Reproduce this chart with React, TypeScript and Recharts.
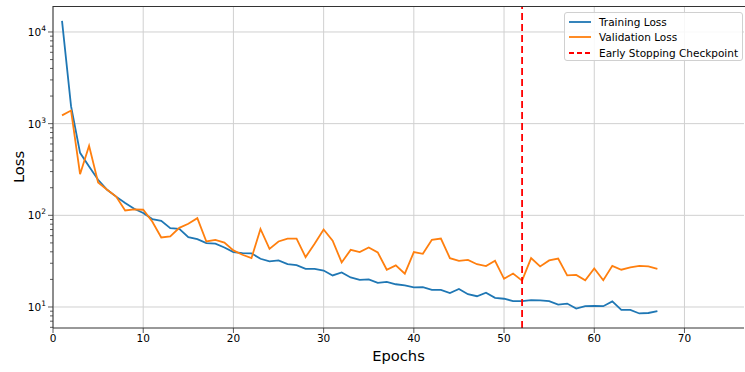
import { CartesianGrid, Line, LineChart, ReferenceLine, XAxis, YAxis } from "recharts";

const trainingLoss = [
  13200, 1550, 480, 340, 244, 190, 160, 136, 118, 106,
  91, 87, 72.5, 71, 57.8, 55, 49.7, 49, 44.6, 39.7,
  38.7, 38.5, 33.6, 31.4, 32.2, 29.3, 28.6, 26.1, 26, 25,
  22.1, 23.8, 21, 19.8, 20, 18.3, 18.8, 17.7, 17.2, 16.4,
  16.5, 15.4, 15.4, 14.2, 15.7, 13.8, 13.1, 14.3, 12.6, 12.3,
  11.6, 11.6, 11.9, 11.8, 11.6, 10.6, 10.9, 9.6, 10.2, 10.3,
  10.2, 11.5, 9.3, 9.3, 8.5, 8.6, 9.0,
];

const validationLoss = [
  1230, 1390, 281, 573, 228, 190, 160, 113, 116, 115,
  85.6, 57.3, 59, 73, 80.8, 93, 51.8, 54, 50.5, 41.4,
  37.1, 34.1, 71, 43.1, 51.8, 55.8, 55.8, 35, 48.9, 70,
  53, 30.6, 42, 39.7, 44.6, 39.4, 25.5, 28.4, 23.1, 39.7,
  38, 54, 55.8, 34.1, 31.9, 32.7, 29.3, 27.9, 31.9, 20.3,
  23.2, 19.4, 34.1, 27.7, 32.2, 33.8, 22.1, 22.4, 19.6, 26.3,
  19.6, 28.1, 25.5, 27, 28.1, 27.7, 26.1,
];

const earlyStopEpoch = 52;
const xTicks = [0, 10, 20, 30, 40, 50, 60, 70];
const majorTicks = [10, 100, 1000, 10000];
const minorSteps = [2, 3, 4, 5, 6, 7, 8, 9];
const yDomain: [number, number] = [5.9, 19200];
const xDomain: [number, number] = [0, 76.6];

const data = trainingLoss.map((t, i) => ({ epoch: i + 1, train: t, val: validationLoss[i] }));

const yTicks = [1, ...majorTicks]
  .flatMap((m) => [m, ...minorSteps.map((s) => m * s)])
  .filter((v) => v >= yDomain[0] && v <= yDomain[1]);

const font = "'DejaVu Sans', sans-serif";

function YTick(props: any) {
  const { x, y, payload } = props;
  const v = payload.value;
  const major = majorTicks.includes(v);
  return (
    <g>
      <line x1={x - (major ? 5 : 3)} x2={x} y1={y} y2={y} stroke="#333" strokeWidth={0.8} />
      {major && (
        <text x={x - 7} y={y + 4} textAnchor="end" fontSize={10.5} fill="#000" fontFamily={font}>
          10
          <tspan dy={-5} fontSize={7.5}>
            {Math.round(Math.log10(v))}
          </tspan>
        </text>
      )}
    </g>
  );
}

const legendItems = [
  { label: "Training Loss", color: "#1f77b4", dash: undefined },
  { label: "Validation Loss", color: "#ff7f0e", dash: undefined },
  { label: "Early Stopping Checkpoint", color: "#ff0000", dash: "5 3" },
];

function LegendBox() {
  return (
    <div
      style={{
        position: "absolute",
        left: 564,
        top: 12,
        width: 179,
        height: 49,
        boxSizing: "border-box",
        border: "1px solid #d0d0d0",
        borderRadius: 3,
        background: "rgba(255,255,255,0.85)",
        padding: "1px 0 0 3px",
        fontFamily: font,
        fontSize: 10.5,
        color: "#000",
      }}
    >
      {legendItems.map((it) => (
        <div key={it.label} style={{ display: "flex", alignItems: "center", height: 15.5, whiteSpace: "nowrap" }}>
          <svg width={31} height={10} style={{ flex: "none" }}>
            <line x1={1} x2={23} y1={5} y2={5} stroke={it.color} strokeWidth={1.8} strokeDasharray={it.dash} />
          </svg>
          <span>{it.label}</span>
        </div>
      ))}
    </div>
  );
}

export default function App() {
  return (
    <div style={{ position: "absolute", left: 0, top: 0, width: 745, height: 372, background: "#fff", fontFamily: font }}>
      <LineChart width={745} height={372} data={data} margin={{ top: 6, right: 1, left: 0, bottom: 0 }}>
        <CartesianGrid
          stroke="#d0d0d0"
          strokeWidth={1}
          horizontalValues={majorTicks}
          verticalValues={xTicks}
        />
        <XAxis
          dataKey="epoch"
          type="number"
          domain={xDomain}
          allowDataOverflow
          ticks={xTicks}
          interval={0}
          height={44}
          tickSize={5}
          tickMargin={2}
          tickLine={{ stroke: "#333", strokeWidth: 0.8 }}
          axisLine={{ stroke: "#333", strokeWidth: 1 }}
          tick={{ fontSize: 10.5, fill: "#000", fontFamily: font }}
          label={(p: any) => {
            const vb = p.viewBox;
            return (
              <text x={vb.x + vb.width / 2} y={vb.y + 33} textAnchor="middle" fontSize={14.7} fill="#000" fontFamily={font}>
                Epochs
              </text>
            );
          }}
        />
        <YAxis
          type="number"
          scale="log"
          domain={yDomain}
          allowDataOverflow
          ticks={yTicks}
          interval={0}
          width={53}
          tickSize={0}
          tickMargin={0}
          tickLine={false}
          axisLine={{ stroke: "#333", strokeWidth: 1 }}
          tick={<YTick />}
          label={(p: any) => {
            const vb = p.viewBox;
            const cx = 18;
            const cy = vb.y + vb.height / 2;
            return (
              <text x={cx} y={cy} transform={`rotate(-90, ${cx}, ${cy})`} textAnchor="middle" dominantBaseline="central" fontSize={14.7} fill="#000" fontFamily={font}>
                Loss
              </text>
            );
          }}
        />
        <Line type="linear" dataKey="train" name="Training Loss" stroke="#1f77b4" strokeWidth={1.8} dot={false} isAnimationActive={false} />
        <Line type="linear" dataKey="val" name="Validation Loss" stroke="#ff7f0e" strokeWidth={1.8} dot={false} isAnimationActive={false} />
        <ReferenceLine x={earlyStopEpoch} stroke="#ff0000" strokeWidth={1.8} strokeDasharray="7 4" />
      </LineChart>
      <div style={{ position: "absolute", left: 53, top: 6, width: 692, height: 0, borderTop: "1px solid #333" }} />
      <LegendBox />
    </div>
  );
}
